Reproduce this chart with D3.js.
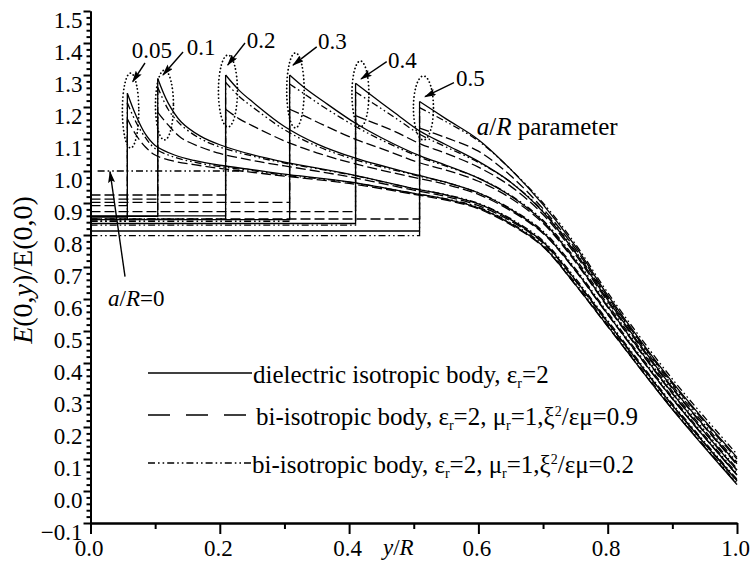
<!DOCTYPE html>
<html><head><meta charset="utf-8">
<script src="https://cdn.jsdelivr.net/npm/d3@7"></script>
<style>
body{margin:0;background:#fff}
svg{display:block}
svg text{font-family:'Liberation Serif','Tinos','DejaVu Serif','Noto Serif',serif}
</style>
</head><body>
<svg id="chart" width="750" height="561"></svg>
<script>
// ---------- data ----------
const aLabels = ["0.05","0.1","0.2","0.3","0.4","0.5"];

// dielectric isotropic body (solid)
const solidCurves = [
 [[0,0.856],[0.057,0.856],[0.057,1.243],[0.07,1.175],[0.085,1.115],[0.1,1.08],[0.13,1.05],[0.16,1.033],[0.2,1.018],[0.25,1.004],[0.3,0.99],[0.4,0.966],[0.5,0.93],[0.55,0.912],[0.6,0.885],[0.65,0.835],[0.7,0.765],[0.75,0.645],[0.8,0.515],[0.9,0.255],[1.0,0.02]],
 [[0,0.858],[0.104,0.858],[0.104,1.289],[0.12,1.213],[0.14,1.154],[0.17,1.109],[0.2,1.082],[0.25,1.051],[0.3,1.028],[0.4,0.99],[0.5,0.945],[0.55,0.925],[0.6,0.897],[0.65,0.848],[0.7,0.778],[0.75,0.66],[0.8,0.528],[0.9,0.268],[1.0,0.032]],
 [[0,0.86],[0.209,0.86],[0.209,1.30],[0.23,1.252],[0.25,1.217],[0.3,1.139],[0.35,1.085],[0.41,1.04],[0.5,0.99],[0.55,0.965],[0.6,0.932],[0.65,0.88],[0.7,0.808],[0.75,0.69],[0.8,0.553],[0.9,0.289],[1.0,0.05]],
 [[0,0.848],[0.308,0.848],[0.308,1.30],[0.33,1.262],[0.36,1.218],[0.41,1.149],[0.45,1.104],[0.51,1.047],[0.55,1.018],[0.6,0.978],[0.65,0.922],[0.7,0.842],[0.75,0.72],[0.8,0.577],[0.9,0.306],[1.0,0.065]],
 [[0,0.836],[0.41,0.836],[0.41,1.274],[0.44,1.228],[0.47,1.183],[0.51,1.124],[0.55,1.082],[0.6,1.03],[0.65,0.965],[0.7,0.872],[0.75,0.745],[0.8,0.597],[0.9,0.323],[1.0,0.085]],
 [[0,0.8125],[0.509,0.8125],[0.509,1.217],[0.55,1.163],[0.6,1.098],[0.65,1.005],[0.7,0.895],[0.75,0.765],[0.8,0.612],[0.9,0.34],[1.0,0.105]]
];
// bi-isotropic body, xi^2/(eps mu)=0.9 (dashed)
const dashedCurves = [
 [[0,0.892],[0.057,0.892],[0.057,1.163],[0.07,1.114],[0.085,1.075],[0.1,1.05],[0.13,1.03],[0.16,1.02],[0.2,1.008],[0.25,0.996],[0.3,0.984],[0.4,0.961],[0.5,0.927],[0.55,0.909],[0.6,0.882],[0.65,0.832],[0.7,0.763],[0.75,0.644],[0.8,0.514],[0.9,0.256],[1.0,0.022]],
 [[0,0.912],[0.104,0.912],[0.104,1.183],[0.12,1.144],[0.14,1.104],[0.17,1.075],[0.2,1.055],[0.25,1.033],[0.3,1.016],[0.4,0.982],[0.5,0.94],[0.55,0.92],[0.6,0.892],[0.65,0.844],[0.7,0.775],[0.75,0.657],[0.8,0.526],[0.9,0.268],[1.0,0.033]],
 [[0,0.925],[0.209,0.925],[0.209,1.193],[0.23,1.163],[0.25,1.142],[0.3,1.094],[0.35,1.057],[0.41,1.022],[0.5,0.98],[0.55,0.958],[0.6,0.927],[0.65,0.876],[0.7,0.805],[0.75,0.688],[0.8,0.551],[0.9,0.288],[1.0,0.05]],
 [[0,0.902],[0.308,0.902],[0.308,1.193],[0.33,1.173],[0.36,1.144],[0.41,1.099],[0.45,1.07],[0.51,1.025],[0.55,1.003],[0.6,0.968],[0.65,0.915],[0.7,0.837],[0.75,0.716],[0.8,0.574],[0.9,0.304],[1.0,0.065]],
 [[0,0.873],[0.41,0.873],[0.41,1.173],[0.44,1.149],[0.47,1.124],[0.51,1.085],[0.55,1.055],[0.6,1.012],[0.65,0.952],[0.7,0.864],[0.75,0.739],[0.8,0.592],[0.9,0.32],[1.0,0.082]],
 [[0,0.85],[0.509,0.85],[0.509,1.134],[0.55,1.104],[0.6,1.062],[0.65,0.985],[0.7,0.882],[0.75,0.757],[0.8,0.606],[0.9,0.336],[1.0,0.1]]
];
// bi-isotropic body, xi^2/(eps mu)=0.2 (dash-dot-dot)
const dashDotCurves = [
 [[0,0.843],[0.057,0.843],[0.057,1.213],[0.07,1.154],[0.085,1.104],[0.1,1.07],[0.13,1.043],[0.16,1.028],[0.2,1.014],[0.25,1.001],[0.3,0.987],[0.4,0.965],[0.5,0.93],[0.55,0.913],[0.6,0.887],[0.65,0.838],[0.7,0.769],[0.75,0.65],[0.8,0.52],[0.9,0.26],[1.0,0.025]],
 [[0,0.848],[0.104,0.848],[0.104,1.262],[0.12,1.193],[0.14,1.144],[0.17,1.101],[0.2,1.075],[0.25,1.047],[0.3,1.025],[0.4,0.989],[0.5,0.945],[0.55,0.926],[0.6,0.899],[0.65,0.851],[0.7,0.782],[0.75,0.665],[0.8,0.533],[0.9,0.273],[1.0,0.037]],
 [[0,0.85],[0.209,0.85],[0.209,1.277],[0.23,1.233],[0.25,1.201],[0.3,1.129],[0.35,1.078],[0.41,1.035],[0.5,0.988],[0.55,0.964],[0.6,0.932],[0.65,0.882],[0.7,0.812],[0.75,0.695],[0.8,0.558],[0.9,0.294],[1.0,0.055]],
 [[0,0.843],[0.308,0.843],[0.308,1.272],[0.33,1.242],[0.36,1.201],[0.41,1.139],[0.45,1.097],[0.51,1.043],[0.55,1.015],[0.6,0.978],[0.65,0.924],[0.7,0.846],[0.75,0.726],[0.8,0.583],[0.9,0.312],[1.0,0.07]],
 [[0,0.831],[0.41,0.831],[0.41,1.247],[0.44,1.208],[0.47,1.168],[0.51,1.114],[0.55,1.075],[0.6,1.027],[0.65,0.965],[0.7,0.875],[0.75,0.75],[0.8,0.603],[0.9,0.33],[1.0,0.09]],
 [[0,0.798],[0.509,0.798],[0.509,1.198],[0.55,1.154],[0.6,1.094],[0.65,1.005],[0.7,0.9],[0.75,0.772],[0.8,0.62],[0.9,0.35],[1.0,0.115]]
];
// a/R = 0 reference level
const zeroCurve = [[0.011,1.0],[0.24,1.0]];

// dotted ellipses around the jumps: [centre y/R, centre E, half-width, half-height]
const jumpEllipses = [
 [0.062,1.189,0.0127,0.117],
 [0.1144,1.206,0.0139,0.109],
 [0.2126,1.25,0.0147,0.1125],
 [0.317,1.252,0.0135,0.117],
 [0.4175,1.241,0.0131,0.103],
 [0.515,1.197,0.0155,0.100]
];

const xMajor = [0.0,0.2,0.4,0.6,0.8,1.0];
const xMinor = [0.1,0.3,0.5,0.7,0.9];
const yMajor = [-0.1,0.0,0.1,0.2,0.3,0.4,0.5,0.6,0.7,0.8,0.9,1.0,1.1,1.2,1.3,1.4,1.5];

const legendItems = ["solid","dashed","dashdot"];

// ---------- drawing ----------
const svg = d3.select("#chart");
const x = d3.scaleLinear().domain([0,1]).range([90.5,737]);
const y = d3.scaleLinear().domain([-0.1,1.5]).range([523,11]);

const styles = {
  solid:   {dash:null, legendDash:null},
  dashed:  {dash:"10,4", legendDash:"22,16"},
  dashdot: {dash:"7,3,1.6,3,1.6,3", legendDash:"7,3,1.6,3,1.6,3"}
};

const defs = svg.append("defs");
defs.append("marker").attr("id","ah").attr("markerUnits","userSpaceOnUse")
  .attr("markerWidth",12).attr("markerHeight",7).attr("refX",11).attr("refY",3.5)
  .attr("orient","auto")
  .append("path").attr("d","M0,0 L12,3.5 L0,7 L2,3.5 Z").attr("fill","#000");

const linear = d3.line().x(d=>x(d[0])).y(d=>y(d[1]));
const smooth = d3.line().x(d=>x(d[0])).y(d=>y(d[1])).curve(d3.curveCatmullRom.alpha(0.5));

const gCurves = svg.append("g").attr("fill","none").attr("stroke","#000").attr("stroke-width",1.3);
function drawSet(curves, st){
  curves.forEach(c=>{
    gCurves.append("path").attr("d",linear(c.slice(0,3))).attr("stroke-dasharray",st.dash);
    gCurves.append("path").attr("d",smooth(c.slice(2))).attr("stroke-dasharray",st.dash);
  });
}
drawSet(solidCurves, styles.solid);
drawSet(dashedCurves, styles.dashed);
drawSet(dashDotCurves, styles.dashdot);
gCurves.append("path").attr("d",linear(zeroCurve)).attr("stroke-dasharray",styles.dashdot.dash);

// dotted ellipses
svg.append("g").selectAll("ellipse").data(jumpEllipses).join("ellipse")
  .attr("cx",d=>x(d[0])).attr("cy",d=>y(d[1]))
  .attr("rx",d=>x(d[0]+d[2])-x(d[0])).attr("ry",d=>y(d[1]-d[3])-y(d[1]))
  .attr("fill","none").attr("stroke","#000").attr("stroke-width",1.8)
  .attr("stroke-linecap","round").attr("stroke-dasharray","0.1,3.6");

// a/R annotations (label position, arrow start, arrow end) in data units
const annot = [
 {t:aLabels[0], p:[0.0637,1.353], a:[[0.0843,1.3375],[0.0653,1.279]]},
 {t:aLabels[1], p:[0.1488,1.3625], a:[[0.1431,1.372],[0.1121,1.300]]},
 {t:aLabels[2], p:[0.2416,1.384], a:[[0.239,1.400],[0.2122,1.331]]},
 {t:aLabels[3], p:[0.3519,1.381], a:[[0.3499,1.388],[0.3132,1.331]]},
 {t:aLabels[4], p:[0.4602,1.322], a:[[0.4582,1.342],[0.4184,1.2875]]},
 {t:aLabels[5], p:[0.5653,1.266], a:[[0.5622,1.276],[0.5174,1.2322]]}
];
const gA = svg.append("g");
annot.forEach(d=>{
  gA.append("text").attr("x",x(d.p[0])).attr("y",y(d.p[1])).attr("font-size",23).text(d.t);
  gA.append("line").attr("x1",x(d.a[0][0])).attr("y1",y(d.a[0][1]))
    .attr("x2",x(d.a[1][0])).attr("y2",y(d.a[1][1]))
    .attr("stroke","#000").attr("stroke-width",1.4).attr("marker-end","url(#ah)");
});
// a/R=0
gA.append("line").attr("x1",x(0.0534)).attr("y1",y(0.6697)).attr("x2",x(0.0302)).attr("y2",y(0.9978))
  .attr("stroke","#000").attr("stroke-width",1.4).attr("marker-end","url(#ah)");
const t0 = gA.append("text").attr("x",x(0.0271)).attr("y",y(0.579)).attr("font-size",23);
t0.append("tspan").attr("font-style","italic").text("a");
t0.append("tspan").text("/");
t0.append("tspan").attr("font-style","italic").text("R");
t0.append("tspan").text("=0");
// a/R parameter
const tp = gA.append("text").attr("x",x(0.5974)).attr("y",y(1.1125)).attr("font-size",25);
tp.append("tspan").attr("font-style","italic").text("a");
tp.append("tspan").text("/");
tp.append("tspan").attr("font-style","italic").text("R");
tp.append("tspan").text(" parameter");

// ---------- axes ----------
const fmt = d3.format(".1f");
const gxMinor = svg.append("g").attr("transform",`translate(0,${y(-0.1)})`)
  .call(d3.axisBottom(x).tickValues(xMinor).tickSize(6).tickSizeOuter(0).tickFormat(""));
const gx = svg.append("g").attr("transform",`translate(0,${y(-0.1)})`)
  .call(d3.axisBottom(x).tickValues(xMajor).tickSize(11).tickSizeOuter(0).tickFormat(fmt));
gx.selectAll("text").attr("y",33).attr("dy",0).attr("dx",-2);

const yMinor = d3.range(-0.1,1.5001,0.02).filter(v=>Math.abs(Math.round(v*10)-v*10)>1e-6);
const gyMinor = svg.append("g").attr("transform",`translate(${x(0)},0)`)
  .call(d3.axisLeft(y).tickValues(yMinor).tickSize(4).tickSizeOuter(0).tickFormat(""));
const gy = svg.append("g").attr("transform",`translate(${x(0)},0)`)
  .call(d3.axisLeft(y).tickValues(yMajor).tickSize(7).tickSizeOuter(0).tickFormat(fmt));
gy.selectAll("text").attr("x",-8).attr("y",9);

[gx,gy,gxMinor,gyMinor].forEach(g=>{
  g.attr("font-family",null);
  g.selectAll("path,line").attr("stroke","#000").attr("stroke-width",2);
  g.selectAll("text").attr("font-size",23).attr("fill","#000");
});

// axis titles
const xt = svg.append("text").attr("x",383).attr("y",555).attr("font-size",23);
xt.append("tspan").attr("font-style","italic").text("y");
xt.append("tspan").text("/");
xt.append("tspan").attr("font-style","italic").text("R");

const yt = svg.append("text").attr("transform","translate(32,270) rotate(-90)")
  .attr("text-anchor","middle").attr("font-size",28);
yt.append("tspan").attr("font-style","italic").text("E");
yt.append("tspan").text("(0,");
yt.append("tspan").attr("font-style","italic").text("y");
yt.append("tspan").text(")/E(0,0)");

// ---------- legend ----------
const legRows = [373,415,463];
const legX = [253,256,252];
const gL = svg.append("g");
legendItems.forEach((k,i)=>{
  gL.append("line").attr("x1",148).attr("x2",252).attr("y1",legRows[i]).attr("y2",legRows[i])
    .attr("stroke","#000").attr("stroke-width",1.6).attr("stroke-dasharray",styles[k].legendDash);
});
function sub(t, s){ t.append("tspan").attr("font-size",14).attr("dy",5).text(s); }
function back(t, s){ t.append("tspan").attr("dy",-5).text(s); }
let L = gL.append("text").attr("x",legX[0]).attr("y",legRows[0]+10).attr("font-size",25);
L.append("tspan").text("dielectric isotropic body, \u03b5"); sub(L,"r"); back(L,"=2");
L = gL.append("text").attr("x",legX[1]).attr("y",legRows[1]+10).attr("font-size",25);
L.append("tspan").text("bi-isotropic body, \u03b5"); sub(L,"r"); back(L,"=2, \u03bc"); sub(L,"r"); back(L,"=1,\u03be");
L.append("tspan").attr("font-size",14).attr("dy",-9).text("2");
L.append("tspan").attr("dy",9).text("/\u03b5\u03bc=0.9");
L = gL.append("text").attr("x",legX[2]).attr("y",legRows[2]+10).attr("font-size",25);
L.append("tspan").text("bi-isotropic body, \u03b5"); sub(L,"r"); back(L,"=2, \u03bc"); sub(L,"r"); back(L,"=1,\u03be");
L.append("tspan").attr("font-size",14).attr("dy",-9).text("2");
L.append("tspan").attr("dy",9).text("/\u03b5\u03bc=0.2");
</script>
</body></html>
